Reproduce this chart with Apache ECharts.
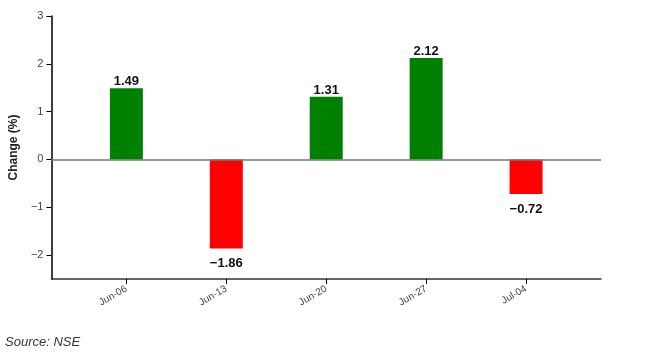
<!DOCTYPE html>
<html>
<head>
<meta charset="utf-8">
<script src="https://cdn.jsdelivr.net/npm/echarts@6/dist/echarts.min.js"></script>
<style>
  html, body { margin: 0; padding: 0; background: #fff; }
  #chart { width: 650px; height: 355px; }
</style>
</head>
<body>
<div id="chart"></div>
<script>
    // weekly change
    var weeks = ['Jun-06', 'Jun-13', 'Jun-20', 'Jun-27', 'Jul-04'];
    var changes = [1.49, -1.86, 1.31, 2.12, -0.72];
    var yTicks = [-2, -1, 0, 1, 2, 3];

    var minus = function(v){
        return String(v).replace('-', '\u2212');
    };

    var barData = [];
    for (var i = 0; i < weeks.length; i++) {
        var v = changes[i];
        barData.push({
            value: [i, v],
            itemStyle: { color: v >= 0 ? '#008000' : '#ff0000' },
            label: { position: v >= 0 ? 'top' : 'bottom', distance: v >= 0 ? 0 : 9 }
        });
    }
    var idx = weeks.map(function(w, i){ return i; });

    var myChart = echarts.init(document.getElementById('chart'));
    myChart.setOption({
        animation: false,
        textStyle: { fontFamily: 'Liberation Sans, Arial, sans-serif' },
        grid: { left: 47, right: 49, top: 16, bottom: 76, containLabel: false },
        graphic: [{
            type: 'text', left: 5, top: 336,
            style: { text: 'Source: NSE', font: 'italic 13px Liberation Sans, Arial, sans-serif', fill: '#333' }
        }],
        xAxis: {
            type: 'value',
            min: -0.75,
            max: 4.75,
            splitLine: { show: false },
            axisLine: { show: true, onZero: false, lineStyle: { color: '#333', width: 1.5 } },
            axisTick: { show: true, customValues: idx, length: 5, lineStyle: { color: '#000' } },
            axisLabel: {
                customValues: idx,
                rotate: 30,
                color: '#444',
                fontSize: 10,
                margin: 9,
                formatter: function(v){ return weeks[Math.round(v)] || ''; }
            }
        },
        yAxis: {
            type: 'value',
            min: -2.5,
            max: 3,
            name: 'Change (%)',
            nameLocation: 'middle',
            nameGap: 23,
            nameTextStyle: { fontWeight: 'bold', fontSize: 12, color: '#222' },
            splitLine: { show: false },
            axisLine: { show: true, onZero: false, lineStyle: { color: '#000', width: 1.5 } },
            axisTick: { show: true, customValues: yTicks, length: 5, lineStyle: { color: '#000' } },
            axisLabel: {
                customValues: yTicks,
                color: '#444',
                fontSize: 11,
                margin: 8,
                formatter: function(v){ return minus(v); }
            }
        },
        series: [{
            type: 'bar',
            barWidth: 33,
            data: barData,
            label: {
                show: true,
                fontWeight: 'bold',
                fontSize: 13,
                color: '#111',
                formatter: function(p){ return minus(p.value[1].toFixed(2)); }
            },
            markLine: {
                silent: true,
                symbol: 'none',
                label: { show: false },
                lineStyle: { color: '#777', width: 1.5, type: 'solid' },
                data: [{ yAxis: 0 }]
            }
        }]
    });
</script>
</body>
</html>
